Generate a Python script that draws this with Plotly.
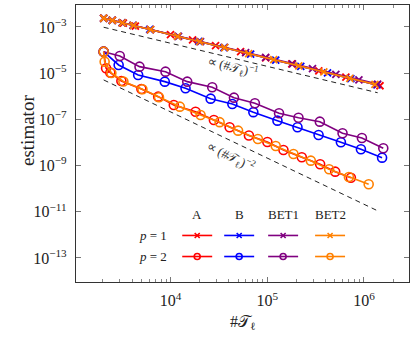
import plotly.graph_objects as go

# p = 1 (crosses)
a1_n = [2037, 2506, 3258, 4335, 6205, 10000, 16910, 29250, 53100, 96400, 179500, 341700, 650700, 1465000]
a1_est = [2.38e-3, 1.95e-3, 1.47e-3, 1.09e-3, 7.70e-4, 4.65e-4, 2.78e-4, 1.55e-4, 8.6e-5, 4.6e-5, 2.5e-5, 1.26e-5, 6.7e-6, 2.85e-6]
b1_n = [2037, 2489, 3183, 4101, 6095, 11910, 19640, 35650, 67400, 122500, 222300, 420400, 732600, 1364000]
b1_est = [2.38e-3, 1.94e-3, 1.51e-3, 1.17e-3, 7.78e-4, 3.93e-4, 2.36e-4, 1.28e-4, 6.68e-5, 3.64e-5, 1.98e-5, 1.03e-5, 5.85e-6, 3.10e-6]
bet1_1_n = [2037, 2506, 3157, 4101, 6205, 12110, 20460, 36300, 59840, 96400, 182500, 294000, 512700, 887300, 1387000]
bet1_1_est = [2.38e-3, 1.93e-3, 1.52e-3, 1.17e-3, 7.64e-4, 3.90e-4, 2.30e-4, 1.30e-4, 7.8e-5, 4.8e-5, 2.5e-5, 1.56e-5, 8.9e-6, 5.1e-6, 3.35e-6]
bet2_1_n = [2037, 2506, 3183, 4139, 6205, 11820, 19990, 36300, 64300, 116700, 212000, 384900, 715700, 1300000]
bet2_1_est = [2.38e-3, 1.93e-3, 1.51e-3, 1.16e-3, 7.64e-4, 3.95e-4, 2.31e-4, 1.26e-4, 7.03e-5, 3.82e-5, 2.08e-5, 1.13e-5, 6.0e-6, 3.26e-6]

# p = 2 (circles)
a2_n = [2037, 2157, 2389, 3105, 5003, 7460, 10820, 18160, 28100, 40850, 64700, 100400, 147200, 227800, 352600, 504500, 733000]
a2_est = [8.53e-5, 1.63e-5, 1.05e-5, 4.59e-6, 2.07e-6, 9.6e-7, 4.2e-7, 2.15e-7, 9.4e-8, 4.55e-8, 2.01e-8, 1.05e-8, 4.73e-9, 2.29e-9, 1.14e-9, 5.44e-10, 2.99e-10]
b2_n = [2037, 2910, 4630, 8730, 14300, 26000, 43600, 71900, 127600, 205600, 339600, 578000, 931000, 1540000]
b2_est = [8.53e-5, 2.26e-5, 8.36e-6, 4.29e-6, 2.22e-6, 7.87e-7, 4.65e-7, 2.05e-7, 8.79e-8, 4.55e-8, 2.11e-8, 1.02e-8, 5.08e-9, 2.20e-9]
bet1_2_n = [2037, 2990, 4780, 8880, 14900, 27000, 45300, 74600, 132500, 210500, 349900, 601000, 953000, 1585000]
bet1_2_est = [8.53e-5, 5.56e-5, 1.91e-5, 1.16e-5, 4.29e-6, 2.45e-6, 8.69e-7, 4.98e-7, 1.84e-7, 1.18e-7, 7.94e-8, 2.50e-8, 1.57e-8, 5.61e-9]
bet2_2_n = [2037, 2085, 2449, 3258, 5128, 7603, 12490, 20460, 32200, 50000, 80100, 122500, 186800, 282400, 436600, 699000, 1120000]
bet2_2_est = [8.53e-5, 3.15e-5, 1.02e-5, 4.38e-6, 2.0e-6, 9.1e-7, 3.55e-7, 1.55e-7, 7.57e-8, 3.24e-8, 1.42e-8, 7.05e-9, 3.18e-9, 1.63e-9, 6.92e-10, 3.21e-10, 1.55e-10]

# reference slopes
ref1_n = [2037, 1387000]
ref1_est = [9.7e-4, 1.42e-6]
ref2_n = [2037, 1387000]
ref2_est = [5.08e-6, 1.10e-11]

series_names = ["A", "B", "BET1", "BET2"]
colors = ["#ff0000", "#0000ff", "#800080", "#ff8000"]

FONT = "Liberation Serif"
L, R, T, B = 76, 6, 5, 58
pw, ph = 415 - L - R, 340 - T - B

fig = go.Figure()

dash = dict(color="#222", width=1, dash="5px,4px")
fig.add_trace(go.Scatter(x=ref1_n, y=ref1_est, mode="lines", line=dash, showlegend=False))
fig.add_trace(go.Scatter(x=ref2_n, y=ref2_est, mode="lines", line=dash, showlegend=False))

p1 = [(a1_n, a1_est), (b1_n, b1_est), (bet1_1_n, bet1_1_est), (bet2_1_n, bet2_1_est)]
p2 = [(a2_n, a2_est), (b2_n, b2_est), (bet1_2_n, bet1_2_est), (bet2_2_n, bet2_2_est)]

for (n, est), c in zip(p1, colors):
    fig.add_trace(go.Scatter(x=n, y=est, mode="lines+markers",
                             line=dict(color=c, width=1.6),
                             marker=dict(symbol="x-thin-open", size=7, color=c, line=dict(color=c, width=1.8)),
                             showlegend=False))
for (n, est), c in zip(p2, colors):
    fig.add_trace(go.Scatter(x=n, y=est, mode="lines+markers",
                             line=dict(color=c, width=1.6),
                             marker=dict(symbol="circle-open", size=9, color=c, line=dict(color=c, width=1.6)),
                             showlegend=False))

# table-like legend drawn on an overlay axis (0..1 over the plot area)
col_x = [0.364, 0.490, 0.622, 0.763]
row_y = [0.168, 0.092]
half = 0.045
for cx, c in zip(col_x, colors):
    for ry, sym, sz in zip(row_y, ["x-thin-open", "circle-open"], [5, 6]):
        fig.add_trace(go.Scatter(x=[cx - half, cx + half], y=[ry, ry], mode="lines",
                                 line=dict(color=c, width=1.6), xaxis="x2", yaxis="y2",
                                 showlegend=False, hoverinfo="skip"))
        fig.add_trace(go.Scatter(x=[cx], y=[ry], mode="markers",
                                 marker=dict(symbol=sym, size=sz, color=c, line=dict(color=c, width=1.6)),
                                 xaxis="x2", yaxis="y2", showlegend=False, hoverinfo="skip"))

annotations = []
for cx, name in zip(col_x, series_names):
    annotations.append(dict(x=cx, y=0.242, xref="x2", yref="y2", text=name, showarrow=False,
                            font=dict(family=FONT, size=13, color="#222")))
for ry, lab in zip(row_y, ["<i>p</i> = 1", "<i>p</i> = 2"]):
    annotations.append(dict(x=0.232, y=ry, xref="x2", yref="y2", text=lab, showarrow=False,
                            font=dict(family=FONT, size=13, color="#222")))

# slope labels sit just under their dashed lines
annotations.append(dict(x=4.646, y=-4.74, xref="x", yref="y",
                        text="∝ (#𝒯<sub>ℓ</sub>)<sup>−1</sup>", showarrow=False, textangle=13.6,
                        font=dict(family=FONT, size=13, color="#333")))
annotations.append(dict(x=4.630, y=-8.61, xref="x", yref="y",
                        text="∝ (#𝒯<sub>ℓ</sub>)<sup>−2</sup>", showarrow=False, textangle=25.9,
                        font=dict(family=FONT, size=13, color="#333")))

# axis titles, positions given in pixels and converted to paper units
annotations.append(dict(x=(27 - L) / pw, y=(340 - B - 131) / ph, xref="paper", yref="paper",
                        text="estimator", textangle=-90, showarrow=False,
                        font=dict(family=FONT, size=19, color="#222")))
annotations.append(dict(x=0.5, y=(340 - B - 322) / ph, xref="paper", yref="paper",
                        text="#𝒯<sub>ℓ</sub>", showarrow=False,
                        font=dict(family=FONT, size=16, color="#222")))
for a in annotations:
    a["xanchor"] = "center"
    a["yanchor"] = "middle"

ytv = [1e-3, 1e-5, 1e-7, 1e-9, 1e-11, 1e-13]
ytt = ["10<sup>−3</sup>", "10<sup>−5</sup>", "10<sup>−7</sup>", "10<sup>−9</sup>", "10<sup>−11</sup>", "10<sup>−13</sup>"]
xtv = [1e4, 1e5, 1e6]
xtt = ["10<sup>4</sup>", "10<sup>5</sup>", "10<sup>6</sup>"]

fig.update_layout(
    width=415, height=340, autosize=False,
    margin=dict(l=L, r=R, t=T, b=B, pad=0, autoexpand=False),
    plot_bgcolor="white", paper_bgcolor="white",
    font=dict(family=FONT, size=16, color="#222"),
    annotations=annotations,
    xaxis=dict(type="log", range=[3.023, 6.466], showgrid=False, zeroline=False, automargin=False,
               tickvals=xtv, ticktext=xtt, ticks="inside", ticklen=5, tickcolor="#777",
               minor=dict(ticks="inside", ticklen=3, tickcolor="#888", dtick="D1", showgrid=False),
               showline=True, linecolor="#333", linewidth=1.3, mirror="allticks",
               ticklabelstandoff=4, tickfont=dict(size=16)),
    yaxis=dict(type="log", range=[-14.04, -2.05], showgrid=False, zeroline=False, automargin=False,
               tickvals=ytv, ticktext=ytt, ticks="inside", ticklen=5, tickcolor="#777",
               showline=True, linecolor="#333", linewidth=1.3, mirror="allticks",
               ticklabelstandoff=5, tickfont=dict(size=16)),
    xaxis2=dict(overlaying="x", range=[0, 1], visible=False),
    yaxis2=dict(overlaying="y", range=[0, 1], visible=False),
)

fig.write_html("out.html", config={"displayModeBar": False},
               post_script="document.body.style.margin = '0px';")
